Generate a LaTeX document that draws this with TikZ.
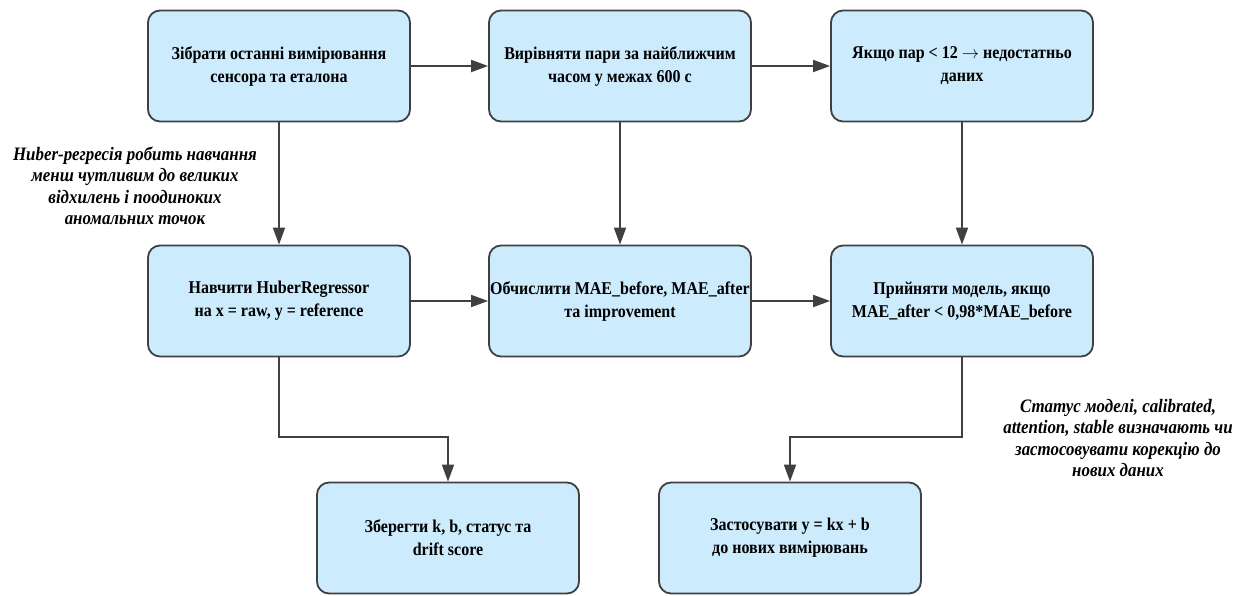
\documentclass[tikz,border=0pt]{standalone}
\usepackage{fontspec}
\setmainfont{Liberation Serif}[FakeStretch=0.89]
\usetikzlibrary{arrows.meta,positioning}
\definecolor{boxfill}{HTML}{CCEBFC}
\definecolor{boxline}{HTML}{404040}
\tikzset{
  stepbox/.style={draw=boxline, line width=1.8pt, fill=boxfill, rounded corners=12pt,
    minimum width=262pt, minimum height=111pt, align=center,
    inner sep=0pt, font=\fontsize{18}{23}\selectfont\bfseries},
  note/.style={align=center, font=\fontsize{19}{21.5}\selectfont\bfseries\itshape},
  flow/.style={draw=boxline, line width=1.8pt, -{Triangle[length=17pt,width=12pt]}}
}
\begin{document}
\begin{tikzpicture}[x=1pt,y=-1pt]
\useasboundingbox (0,0) rectangle (1243,595);
\node[stepbox] (b1) at (279,66) {Зібрати останні вимірювання\\сенсора та еталона};
\node[stepbox] (b2) at (620,66) {Вирівняти пари за найближчим\\часом у межах 600 с};
\node[stepbox] (b3) at (962,66) {Якщо пар < 12 $\rightarrow$ недостатньо\\даних};
\node[stepbox] (b4) at (279,301) {Навчити HuberRegressor\\на x = raw, y = reference};
\node[stepbox] (b5) at (620,301) {Обчислити MAE\_before, MAE\_after\\та improvement};
\node[stepbox] (b6) at (962,301) {Прийняти модель, якщо\\MAE\_after < 0,98*MAE\_before};
\node[stepbox] (b7) at (448,538) {Зберегти k, b, статус та\\drift score};
\node[stepbox] (b8) at (790,538) {Застосувати y = kx + b\\до нових вимірювань};
\node[note] (n1) at (135,186) {Huber-регресія робить навчання\\менш чутливим до великих\\відхилень і поодиноких\\аномальних точок};
\node[note] (n2) at (1118,438) {Статус моделі, calibrated,\\attention, stable визначають чи\\застосовувати корекцію до\\нових даних};
\draw[flow] (b1) -- (b2);
\draw[flow] (b2) -- (b3);
\draw[flow] (b4) -- (b5);
\draw[flow] (b5) -- (b6);
\draw[flow] (b1) -- (b4);
\draw[flow] (b2) -- (b5);
\draw[flow] (b3) -- (b6);
\coordinate (k1) at (279,437);
\coordinate (k2) at (962,437);
\draw[flow] (b4.south) -- (k1) -| (b7.north);
\draw[flow] (b6.south) -- (k2) -| (b8.north);
\end{tikzpicture}
\end{document}
